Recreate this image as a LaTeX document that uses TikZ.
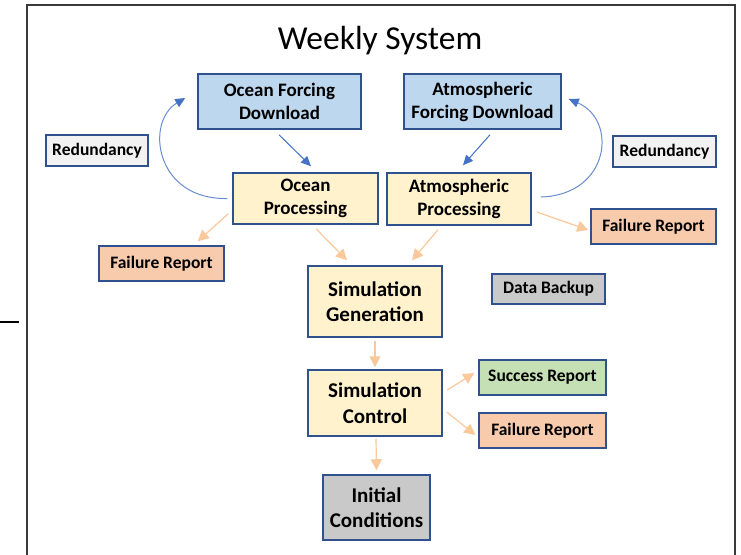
\documentclass[tikz,border=0pt]{standalone}
\usepackage{fontspec}
\setmainfont{Carlito}
\usetikzlibrary{arrows.meta,calc}
\definecolor{bluefill}{HTML}{BDD7EE}
\definecolor{boxline}{HTML}{2F528F}
\definecolor{yelfill}{HTML}{FFF2CC}
\definecolor{orfill}{HTML}{F8CBAD}
\definecolor{grfill}{HTML}{C5E0B4}
\definecolor{gyfill}{HTML}{C9C9C9}
\definecolor{ltfill}{HTML}{F2F2F2}
\definecolor{barr}{HTML}{4472C4}
\definecolor{bcurve}{HTML}{6A8CCF}
\definecolor{oarr}{HTML}{F9C89B}
\definecolor{framec}{HTML}{3A3A3A}
\begin{document}
\begin{tikzpicture}[x=1pt,y=-1pt,
  box/.style={draw=boxline, line width=1.5pt, inner sep=0pt, align=center, text=black},
  midtxt/.style={font=\bfseries\fontsize{19}{23}\selectfont},
  bigtxt/.style={font=\bfseries\fontsize{21}{25.5}\selectfont},
  smalltxt/.style={font=\bfseries\fontsize{17.5}{20}\selectfont},
  barrow/.style={draw=barr, line width=1pt, -{Triangle[length=10pt,width=9pt]}, fill=barr},
  bcurvearrow/.style={draw=bcurve, line width=1pt, -{Triangle[length=10pt,width=9pt,fill=barr,color=barr]}},
  oarrow/.style={draw=oarr, line width=1.2pt, -{Triangle[length=11pt,width=11pt]}},
]
\useasboundingbox (0,0) rectangle (741,554);
% frame
\draw[framec, line width=2.2pt] (27,570) -- (27,5) -- (735,5) -- (735,570);
\draw[black, line width=2pt] (0,322) -- (19,322);
% title
\node[anchor=base, font=\fontsize{33.5}{38}\selectfont] (title) at (380,49) {Weekly System};
% nodes
\node[box, midtxt, fill=bluefill, minimum width=163pt, minimum height=55pt] (ofd) at (279.5,101.5) {Ocean Forcing\\Download};
\node[box, midtxt, fill=bluefill, minimum width=157pt, minimum height=55pt] (afd) at (482.5,101.5) {Atmospheric\\Forcing Download};
\node[box, smalltxt, fill=ltfill, minimum width=102pt, minimum height=31pt] (red1) at (97,150.5) {Redundancy};
\node[box, smalltxt, fill=ltfill, minimum width=103pt, minimum height=31pt] (red2) at (664.5,151.5) {Redundancy};
\node[box, midtxt, fill=yelfill, minimum width=145pt, minimum height=51pt] (op) at (305.5,198.5) {Ocean\\Processing};
\node[box, midtxt, fill=yelfill, minimum width=144pt, minimum height=52pt] (ap) at (459,199) {Atmospheric\\Processing};
\node[box, smalltxt, fill=orfill, minimum width=125pt, minimum height=35pt] (fr1) at (161.5,263.5) {Failure Report};
\node[box, smalltxt, fill=orfill, minimum width=125pt, minimum height=35pt] (fr2) at (653.5,226.5) {Failure Report};
\node[box, bigtxt, fill=yelfill, minimum width=134pt, minimum height=71pt] (sg) at (375,301.5) {Simulation\\Generation};
\node[box, smalltxt, fill=gyfill, minimum width=113pt, minimum height=30pt] (db) at (548.5,289) {Data Backup};
\node[box, bigtxt, fill=yelfill, minimum width=134pt, minimum height=66pt] (sc) at (375,403) {Simulation\\Control};
\node[box, smalltxt, fill=grfill, minimum width=127pt, minimum height=35pt] (sr) at (542.5,377.5) {Success Report};
\node[box, smalltxt, fill=orfill, minimum width=127pt, minimum height=35pt] (fr3) at (542.5,430.5) {Failure Report};
\node[box, bigtxt, fill=gyfill, minimum width=107pt, minimum height=65pt] (ic) at (376.5,507.5) {Initial\\Conditions};
% blue arrows
\draw[barrow] ($(ofd.south)+(-0.5,5)$) -- ($(op.north)+(5.5,-6)$);
\draw[barrow] ($(afd.south)+(7.5,5)$) -- ($(ap.north)+(4,-7)$);
\draw[bcurvearrow] ($(op.west)+(-5,0)$) .. controls (155,200) and (145,122) .. ($(ofd.west)+(-12,-3.5)$);
\draw[bcurvearrow] ($(ap.east)+(9,-2)$) .. controls (610,195) and (618,120) .. ($(afd.east)+(7,-2.5)$);
% orange arrows
\draw[oarrow] ($(op.south west)+(-4,-11)$) -- ($(fr1.north east)+(-27,-4)$);
\draw[oarrow] ($(op.south)+(10.5,4)$) -- ($(sg.north)+(-28,-5)$);
\draw[oarrow] ($(ap.south)+(-21,4)$) -- ($(sg.north)+(37,-5)$);
\draw[oarrow] ($(ap.east)+(5,13)$) -- ($(fr2.west)+(-2,3.5)$);
\draw[oarrow] ($(sg.south)+(0,3)$) -- ($(sc.north)+(0,-2)$);
\draw[oarrow] ($(sc.east)+(4.5,-13)$) -- ($(sr.west)+(-4,-4.5)$);
\draw[oarrow] ($(sc.east)+(4,9)$) -- ($(fr3.west)+(-3,4.5)$);
\draw[oarrow] ($(sc.south)+(1,2)$) -- ($(ic.north)+(0,-4)$);
\end{tikzpicture}
\end{document}
